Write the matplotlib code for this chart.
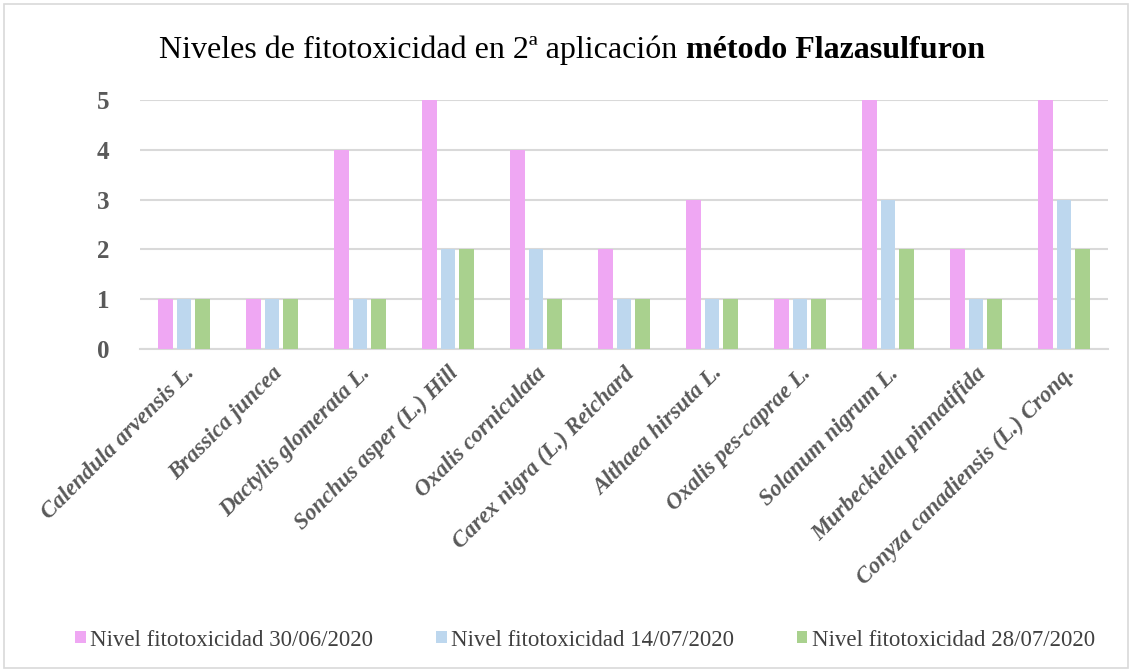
import matplotlib.pyplot as plt
import numpy as np
from matplotlib.patches import Rectangle

species = ['Calendula arvensis L.', 'Brassica juncea', 'Dactylis glomerata L.',
           'Sonchus asper (L.) Hill', 'Oxalis corniculata', 'Carex nigra (L.) Reichard',
           'Althaea hirsuta L.', 'Oxalis pes-caprae L.', 'Solanum nigrum L.',
           'Murbeckiella pinnatifida', 'Conyza canadiensis (L.) Cronq.']
nivel_3006 = [1, 1, 4, 5, 4, 2, 3, 1, 5, 2, 5]
nivel_1407 = [1, 1, 1, 2, 2, 1, 1, 1, 3, 1, 3]
nivel_2807 = [1, 1, 1, 2, 1, 1, 1, 1, 2, 1, 2]
series_names = ['Nivel fitotoxicidad 30/06/2020', 'Nivel fitotoxicidad 14/07/2020',
                'Nivel fitotoxicidad 28/07/2020']
colors = ['#EFA7F3', '#BDD7EE', '#A9D18E']

plt.rcParams['font.family'] = ['Liberation Serif', 'DejaVu Serif']

fig = plt.figure(figsize=(11.32, 6.72), dpi=100)
ax = fig.add_axes([140/1132, 1-349/672, (1108-140)/1132, (349-100)/672])

x = np.arange(len(species))
w = 0.17
step = 0.215
for k, (vals, name, c) in enumerate(zip([nivel_3006, nivel_1407, nivel_2807], series_names, colors)):
    ax.bar(x + (k - 1) * step, vals, width=w, color=c, label=name, zorder=3)

ax.set_xlim(-0.5, len(species) - 0.5)
ax.set_ylim(0, 5)
ax.set_yticks(range(6))
ax.yaxis.grid(True, color='#D9D9D9', linewidth=1.5, zorder=0)
for s in ['top', 'right', 'left']:
    ax.spines[s].set_visible(False)
ax.spines['bottom'].set_color('#D9D9D9')
ax.spines['bottom'].set_linewidth(1.5)
ax.tick_params(axis='both', length=0, colors='#595959')
ax.tick_params(axis='y', labelsize=18, pad=22)
for lab in ax.get_yticklabels():
    lab.set_fontweight('bold')
ax.set_xticks(x)
ax.set_xticklabels(species, rotation=45, ha='right', rotation_mode='anchor',
                   fontsize=16.5, fontstyle='italic', fontweight='bold', color='#595959')
ax.tick_params(axis='x', pad=10)

# title in two parts: regular + bold
t1 = fig.text(0, 0.925, 'Niveles de fitotoxicidad en 2ª aplicación ', fontsize=23,
              ha='left', va='center')
t2 = fig.text(0, 0.925, 'método Flazasulfuron', fontsize=23, fontweight='bold',
              ha='left', va='center')
fig.canvas.draw()
r = fig.canvas.get_renderer()
w1 = t1.get_window_extent(r).width / fig.bbox.width
w2 = t2.get_window_extent(r).width / fig.bbox.width
x0 = 572/1132 - (w1 + w2) / 2
t1.set_x(x0)
t2.set_x(x0 + w1)

fig.legend(loc='center', bbox_to_anchor=(0.517, 1-640/672), ncol=3, frameon=False,
           fontsize=16.5, handlelength=0.45, handleheight=0.45, handletextpad=0.2,
           columnspacing=2.75, labelcolor='#404040')

fig.patches.append(Rectangle((4/1132, 4/672), 1-8/1132, 1-8/672, transform=fig.transFigure,
                             fill=False, edgecolor='#D9D9D9', linewidth=1.2))

fig.savefig('out.png', dpi=100)
